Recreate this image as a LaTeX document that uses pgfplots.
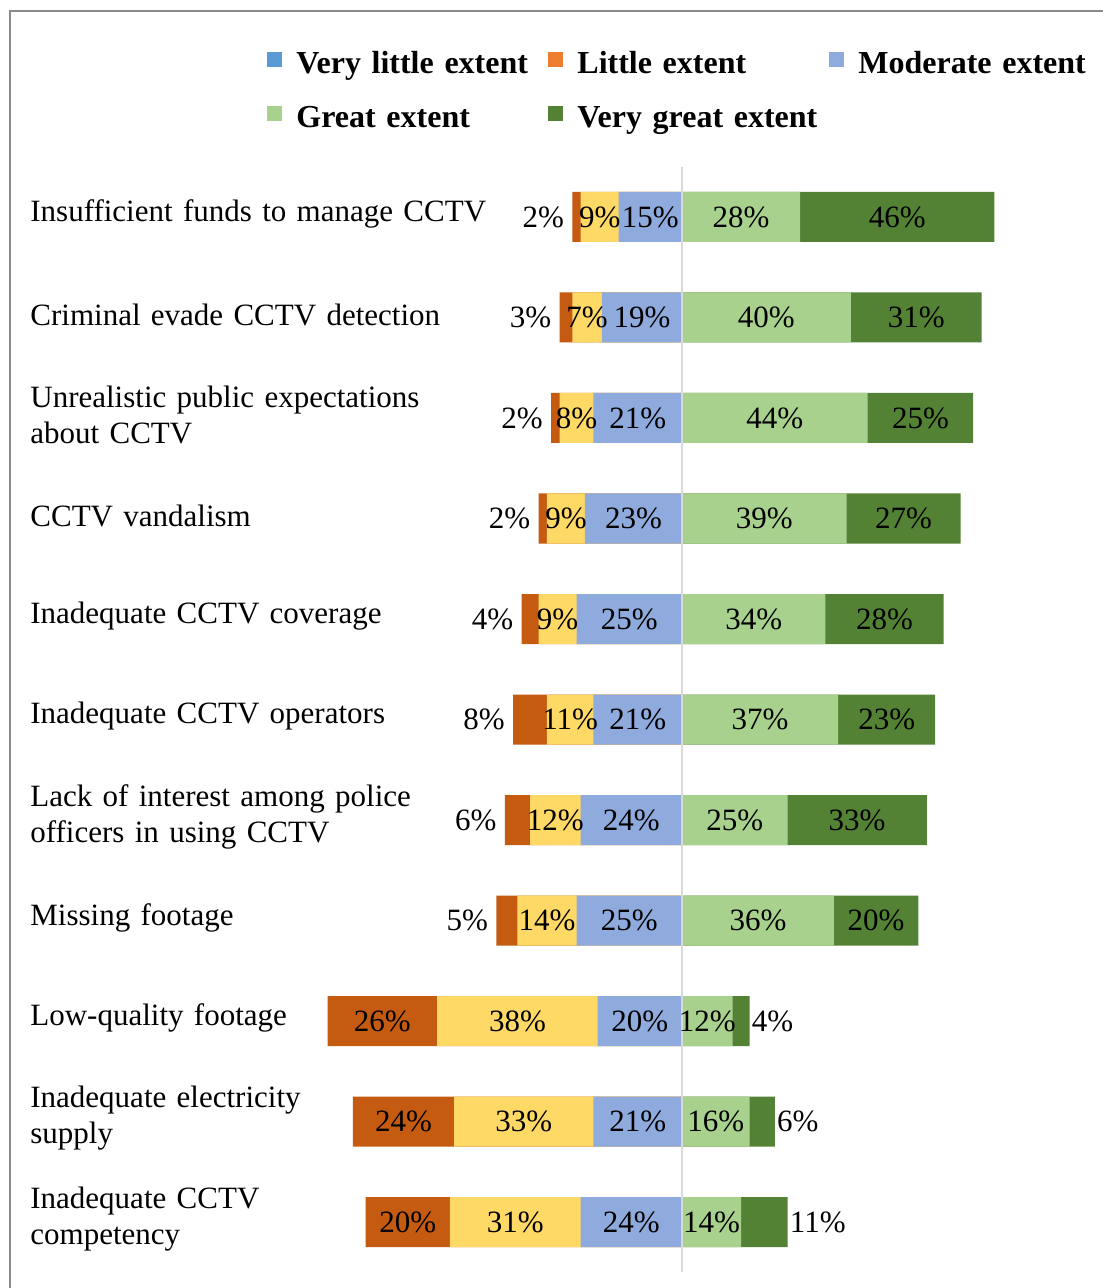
\documentclass[border=0pt]{standalone}
\usepackage{pgfplots}
\pgfplotsset{compat=1.18}
\usepackage{pgfplotstable}
\usepackage{fontspec}
\setmainfont{Liberation Serif}
\definecolor{cVL}{HTML}{C55A11}
\definecolor{cL}{HTML}{FFD966}
\definecolor{cM}{HTML}{8FAADC}
\definecolor{cG}{HTML}{A9D18E}
\definecolor{cVG}{HTML}{548235}
\definecolor{lVL}{HTML}{5B9BD5}
\definecolor{lL}{HTML}{ED7D31}
\definecolor{frame}{HTML}{898989}
\definecolor{zline}{HTML}{D9D9D9}

\pgfplotstableread{
row vl l m g vg
1 2 9 15 28 46
2 3 7 19 40 31
3 2 8 21 44 25
4 2 9 23 39 27
5 4 9 25 34 28
6 8 11 21 37 23
7 6 12 24 25 33
8 5 14 25 36 20
9 26 38 20 12 4
10 24 33 21 16 6
11 20 31 24 14 11
}\datatable

\begin{document}
\begin{tikzpicture}
\useasboundingbox (0,0) rectangle (551pt,644pt);
\fill[white] (0,0) rectangle (551pt,644pt);
\draw[color=frame, line width=1pt] (5pt,-10pt) -- (5pt,638.5pt) -- (600pt,638.5pt);
\begin{axis}[
  at={(130pt,7.875pt)}, anchor=south west,
  scale only axis, width=422pt, height=552.75pt,
  xmin=-100, xmax=100, ymin=0.5, ymax=11.5,
  enlargelimits=false,
  y dir=reverse, clip=false,
  axis line style={draw=none},
  /pgf/number format/assume math mode=true,
  xtick=\empty, ytick={1,...,11}, major tick length=0pt,
  yticklabels={
    {Insufficient funds to manage CCTV},
    {Criminal evade CCTV detection},
    {Unrealistic public expectations\\about CCTV},
    {CCTV vandalism},
    {Inadequate CCTV coverage},
    {Inadequate CCTV operators},
    {Lack of interest among police\\officers in using CCTV},
    {Missing footage},
    {Low-quality footage},
    {Inadequate electricity\\supply},
    {Inadequate CCTV\\competency}},
  yticklabel style={anchor=west, xshift=-115pt, yshift=1.5pt, text width=240pt, align=left,
    inner sep=0pt, font=\fontsize{15.5}{18}\selectfont},
  bar width=25pt,
  every node near coord/.append style={font=\fontsize{15.5}{18}\selectfont, inner sep=0pt, text=black},
  legend image code/.code={\fill[#1] (-0.5pt,3pt) rectangle (7pt,10.5pt);},
  legend style={at={(axis description cs:0.0083,1.1047)}, anchor=north west,
    draw=none, fill=none, inner sep=0pt, legend columns=3,
    font=\bfseries\fontsize{16}{19}\selectfont, row sep=12pt,
    nodes={inner sep=0pt, text height=11pt, text depth=4pt, text width=122pt, anchor=base west, align=left},
    /tikz/every odd column/.append style={column sep=7pt},
    /tikz/every even column/.append style={column sep=4pt}},
]
% bars (cumulative, drawn longest first)
\addplot[xbar, bar shift=0pt, fill=cVL, draw=none, forget plot]
  table[x expr={-(\thisrow{vl}+\thisrow{l}+\thisrow{m})}, y=row] {\datatable};
\addplot[xbar, bar shift=0pt, fill=cL, draw=none, forget plot]
  table[x expr={-(\thisrow{l}+\thisrow{m})}, y=row] {\datatable};
\addplot[xbar, bar shift=0pt, fill=cM, draw=none, forget plot]
  table[x expr={-\thisrow{m}}, y=row] {\datatable};
\addplot[xbar, bar shift=0pt, fill=cVG, draw=none, forget plot]
  table[x expr={\thisrow{g}+\thisrow{vg}}, y=row] {\datatable};
\addplot[xbar, bar shift=0pt, fill=cG, draw=none, forget plot]
  table[x expr={\thisrow{g}}, y=row] {\datatable};

\draw[color=zline, line width=1pt] (axis cs:0,0.5) -- (axis cs:0,11.5);

% labels
\addplot[draw=none, mark=none, forget plot, point meta=explicit,
  nodes near coords={\pgfmathprintnumber{\pgfplotspointmeta}\%}, nodes near coords style={anchor=center}]
  table[x expr={-\thisrow{m}/2}, y=row, meta=m] {\datatable};
\addplot[draw=none, mark=none, forget plot, point meta=explicit,
  nodes near coords={\pgfmathprintnumber{\pgfplotspointmeta}\%}, nodes near coords style={anchor=center}]
  table[x expr={-(\thisrow{m}+\thisrow{l}/2)}, y=row, meta=l] {\datatable};
\addplot[draw=none, mark=none, forget plot, point meta=explicit,
  skip coords between index={8}{11},
  nodes near coords={\pgfmathprintnumber{\pgfplotspointmeta}\%}, nodes near coords style={anchor=east, xshift=-4pt}]
  table[x expr={-(\thisrow{m}+\thisrow{l}+\thisrow{vl})}, y=row, meta=vl] {\datatable};
\addplot[draw=none, mark=none, forget plot, point meta=explicit,
  skip coords between index={0}{8},
  nodes near coords={\pgfmathprintnumber{\pgfplotspointmeta}\%}, nodes near coords style={anchor=center}]
  table[x expr={-(\thisrow{m}+\thisrow{l}+\thisrow{vl}/2)}, y=row, meta=vl] {\datatable};
\addplot[draw=none, mark=none, forget plot, point meta=explicit,
  nodes near coords={\pgfmathprintnumber{\pgfplotspointmeta}\%}, nodes near coords style={anchor=center}]
  table[x expr={\thisrow{g}/2}, y=row, meta=g] {\datatable};
\addplot[draw=none, mark=none, forget plot, point meta=explicit,
  skip coords between index={8}{11},
  nodes near coords={\pgfmathprintnumber{\pgfplotspointmeta}\%}, nodes near coords style={anchor=center}]
  table[x expr={\thisrow{g}+\thisrow{vg}/2}, y=row, meta=vg] {\datatable};
\addplot[draw=none, mark=none, forget plot, point meta=explicit,
  skip coords between index={0}{8},
  nodes near coords={\pgfmathprintnumber{\pgfplotspointmeta}\%}, nodes near coords style={anchor=west, xshift=1pt}]
  table[x expr={\thisrow{g}+\thisrow{vg}}, y=row, meta=vg] {\datatable};

% legend
\addlegendimage{fill=lVL, draw=none}\addlegendentry{Very little extent}
\addlegendimage{fill=lL, draw=none}\addlegendentry{Little extent}
\addlegendimage{fill=cM, draw=none}\addlegendentry{Moderate extent}
\addlegendimage{fill=cG, draw=none}\addlegendentry{Great extent}
\addlegendimage{fill=cVG, draw=none}\addlegendentry{Very great extent}
\end{axis}
\end{tikzpicture}
\end{document}
